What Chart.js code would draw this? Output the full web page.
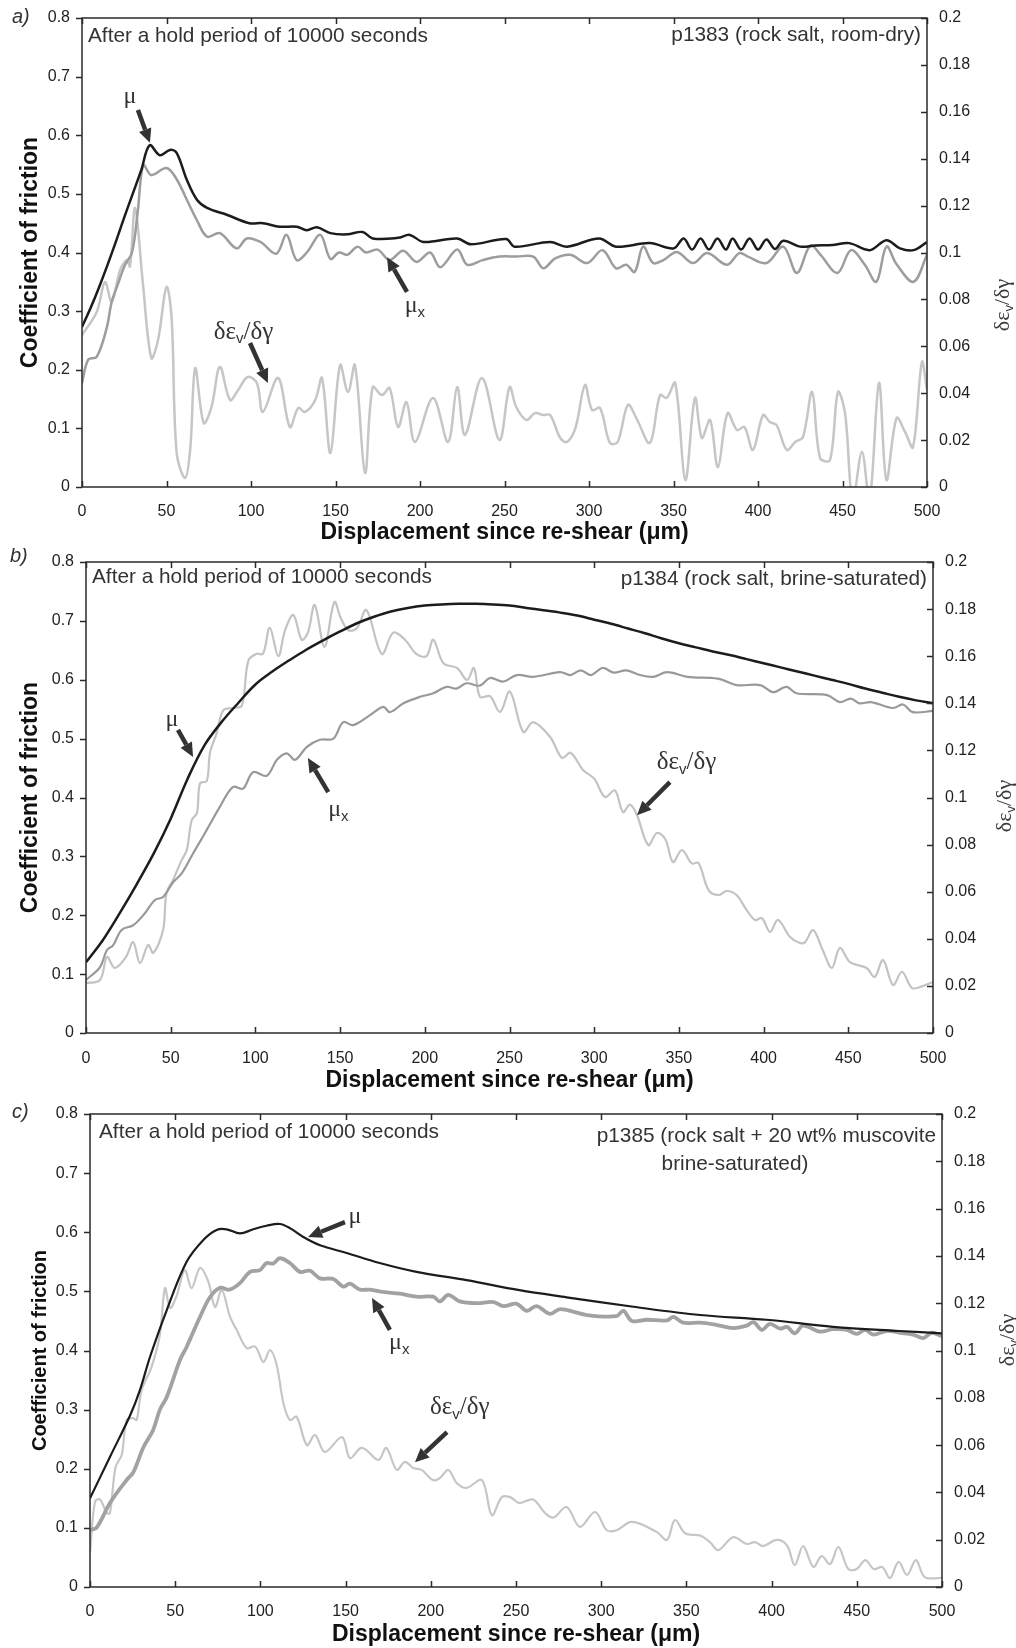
<!DOCTYPE html>
<html>
<head>
<meta charset="utf-8">
<script src="https://cdn.jsdelivr.net/npm/chart.js@4.4.1/dist/chart.umd.min.js"></script>
<style>
  html, body { margin: 0; padding: 0; background: #fff; }
  #wrap { position: relative; width: 1016px; height: 1648px; }
  canvas { position: absolute; left: 0; }
</style>
</head>
<body>
<div id="wrap">
  <canvas id="pa" width="1016" height="548" style="top:0px"></canvas>
  <canvas id="pb" width="1016" height="548" style="top:548px"></canvas>
  <canvas id="pc" width="1016" height="552" style="top:1096px"></canvas>
</div>
<script>
// ---- panel a: p1383 rock salt, room-dry ----
const aMuX = [0,5,10,15,20,25,30,35,40,46,52,56,62,68,74,86,99,107,117,127,133,139,147,157,166,172,187,194,202,222,230,251,256,277,287,306,316,336,350,356,361,366,371,376,381,385,390,395,400,405,410,415,425,434,444,454,466,476,484,492,500];
const aMuY = [0.273,0.305,0.34,0.378,0.418,0.46,0.5,0.54,0.583,0.566,0.575,0.57,0.524,0.49,0.476,0.464,0.45,0.45,0.444,0.444,0.438,0.443,0.433,0.431,0.435,0.424,0.425,0.43,0.418,0.424,0.414,0.423,0.41,0.418,0.41,0.424,0.41,0.416,0.407,0.424,0.405,0.424,0.405,0.424,0.405,0.424,0.405,0.424,0.405,0.422,0.406,0.42,0.41,0.412,0.413,0.416,0.404,0.421,0.407,0.404,0.418];
const aMuxX = [0,3.6,8.7,14.6,17.6,21.5,25.5,29.6,33,36.3,41,50,56,62,68,74,81.6,91.5,97.5,105.5,115,121,127,133,141,147,152,157,163,168,175,182,190,198,206,212,222,228,237,247,257,267,273,280,289,299,308,316,322,327,332,338,344,352,361.5,370,381.5,389,394,405,415,423,431,437,447,455,463,470,476,482,492,500];
const aMuxY = [0.177,0.217,0.222,0.271,0.316,0.348,0.379,0.40,0.47,0.549,0.532,0.544,0.525,0.49,0.455,0.427,0.433,0.407,0.424,0.418,0.398,0.43,0.387,0.4,0.43,0.389,0.40,0.396,0.41,0.40,0.405,0.387,0.403,0.384,0.40,0.375,0.405,0.379,0.387,0.393,0.393,0.393,0.373,0.39,0.396,0.382,0.404,0.373,0.379,0.367,0.41,0.382,0.387,0.401,0.382,0.399,0.379,0.399,0.393,0.382,0.41,0.365,0.412,0.396,0.365,0.404,0.38,0.35,0.41,0.38,0.35,0.396];
const aDilX = [0,8.7,13.6,17.6,22.5,26.6,28.4,31.4,36,41,45,50,53,56,61,64,67,72,76.6,81.6,87.6,92.4,98,103.5,107,116,123,128,132,138,142,147,152.7,157.4,161.5,167.5,172,177.5,182,187,192,197,207.7,216.6,222,226.6,236.7,247,253,257,263,268,273,277,283,287,292,297.6,301.8,306.5,312.4,317,323,328,336,342,346,351,357,362.7,366.8,371.6,376.3,382,387.6,392,397,403,407,411,417,422,426.6,432,436.7,442.6,447.3,451.5,456,461.5,466,471.6,476,482,487,491.7,497,500];
const aDilY = [0.0648,0.0746,0.0874,0.079,0.0925,0.0968,0.094,0.119,0.087,0.055,0.0627,0.0853,0.0725,0.0145,0.0038,0.0158,0.0507,0.0273,0.0341,0.0512,0.0371,0.0414,0.0469,0.0444,0.032,0.0465,0.0256,0.0337,0.032,0.0371,0.0465,0.0145,0.052,0.0405,0.052,0.006,0.0426,0.0392,0.0422,0.0256,0.0362,0.0192,0.038,0.0192,0.0426,0.0222,0.0465,0.02,0.0426,0.034,0.0286,0.0315,0.0307,0.0307,0.0209,0.0192,0.0252,0.0435,0.0328,0.0337,0.0188,0.0192,0.035,0.0294,0.0188,0.0392,0.038,0.0444,0.003,0.038,0.0209,0.0286,0.0085,0.0315,0.0243,0.0256,0.0158,0.0307,0.0277,0.0264,0.0158,0.0192,0.0213,0.0405,0.0124,0.0115,0.0405,0.0315,-0.006,0.015,-0.006,0.0444,0.003,0.0294,0.0235,0.017,0.0533,0.0414];

// ---- panel b: p1384 rock salt, brine-saturated ----
const bMuX = [0,10,20,30,40,50,60,70,80,90,100,110,120,130,140,150,160,170,180,190,200,210,220,230,240,250,260,270,280,290,300,310,320,330,340,350,360,370,380,390,400,410,420,430,440,450,460,470,480,490,500];
const bMuY = [0.12,0.158,0.204,0.253,0.305,0.364,0.432,0.489,0.528,0.561,0.592,0.614,0.633,0.651,0.667,0.682,0.696,0.707,0.716,0.722,0.726,0.728,0.729,0.729,0.728,0.726,0.722,0.718,0.714,0.709,0.702,0.695,0.687,0.679,0.67,0.662,0.655,0.648,0.642,0.635,0.628,0.621,0.614,0.607,0.6,0.593,0.585,0.578,0.571,0.565,0.56];
const bMuxX = [0,8.3,12.4,16,21,27.8,33.8,40.7,45.5,51.4,56.5,63.2,67.3,71.3,79,86.8,92.7,98.6,106.7,112.7,118.5,123.4,130.4,138,146,151.8,157.7,167.7,175.5,179.4,187.4,197.2,205,212.8,218.7,224.6,232.6,238.5,246.3,254.3,264,279.8,286,292,298,305,311.5,319,327,335,343,355,373,384,398,405.6,413.5,419.4,437.5,445,451.5,456.5,463.3,476.4,482.3,488,500];
const bMuxY = [0.09,0.112,0.141,0.149,0.175,0.183,0.2,0.226,0.231,0.256,0.271,0.305,0.325,0.345,0.384,0.418,0.415,0.443,0.437,0.464,0.475,0.464,0.486,0.498,0.5,0.528,0.523,0.54,0.554,0.545,0.56,0.571,0.577,0.588,0.585,0.594,0.59,0.603,0.597,0.608,0.605,0.613,0.608,0.616,0.608,0.62,0.612,0.616,0.608,0.605,0.613,0.605,0.602,0.591,0.591,0.579,0.588,0.577,0.574,0.562,0.568,0.56,0.562,0.552,0.558,0.545,0.547];
const bDilX = [0,8.3,12.4,17,23.6,27.8,31.9,36.7,39.7,45.5,47.5,51.4,56.5,59.5,62.4,65.5,67.3,71.3,73.2,77,81,86.8,92,95.8,100.7,104.5,108.5,113.5,117.5,122.4,127.3,131,135,140.8,146.6,150.5,155,160,165.5,174.6,181.4,188.3,195,201,205,211,219,225,229,232.6,238.5,244.4,250.2,258.1,264,274,281,286,293.4,300,306.4,312.2,317,321,325,331.9,337,342,346.5,351.8,357.6,361.6,367.5,373.4,378.2,384,390,394.9,399,403.8,408.5,415.6,421.5,424.5,429.2,435,440.3,445,451,460.8,465.6,470.5,476.4,481.7,487.6,493.5,500];
const bDilY = [0.0212,0.0225,0.0323,0.0276,0.0323,0.0386,0.0297,0.0374,0.034,0.0437,0.0594,0.065,0.0735,0.0777,0.0904,0.0934,0.106,0.107,0.119,0.127,0.137,0.138,0.139,0.158,0.161,0.161,0.172,0.16,0.171,0.1775,0.167,0.17,0.1817,0.164,0.183,0.176,0.171,0.172,0.1796,0.161,0.17,0.167,0.161,0.16,0.167,0.157,0.155,0.1499,0.155,0.1427,0.143,0.1363,0.145,0.1278,0.132,0.1257,0.1168,0.119,0.1117,0.108,0.1002,0.103,0.0938,0.097,0.093,0.0798,0.0849,0.0823,0.0726,0.0777,0.072,0.0722,0.0607,0.0586,0.0603,0.0586,0.0522,0.048,0.0488,0.0429,0.048,0.0408,0.0382,0.0386,0.0437,0.035,0.0276,0.0361,0.0301,0.0276,0.0238,0.031,0.0204,0.026,0.0191,0.0198,0.0217];

// ---- panel c: p1385 rock salt + 20 wt% muscovite ----
const cMuX = [0,11.7,23.5,29.3,35.2,45,56.7,66.5,74.3,80.2,88,95.8,103.6,111.4,117.3,125.2,135,150.6,170,191.6,221,252,279.7,318.9,358,397,436,475,500];
const cMuY = [0.15,0.22,0.29,0.333,0.389,0.468,0.55,0.587,0.604,0.605,0.598,0.605,0.611,0.614,0.607,0.592,0.578,0.565,0.548,0.533,0.519,0.502,0.49,0.474,0.46,0.452,0.44,0.433,0.429];
const cMuxX = [0,4,11.7,21.5,25.4,31.3,37,41,45,52.8,56.7,64.6,70.4,76.3,82,88,93.9,99.7,103.6,107.5,111.4,117.3,123.2,129,135,142.8,148.6,152.5,158.5,164.3,172,181.9,191.6,201.4,205.4,210.2,217,227,236.8,242.6,250.4,256.3,262,270,276,291.7,309,313,318,326.8,338.6,342.5,348,358,368,377.5,385.4,389.4,394.3,399,405,409,413.6,418.5,428.3,436,444,450,454.8,459.7,467.5,475.4,483,489,494,500];
const cMuxY = [0.096,0.101,0.142,0.181,0.194,0.236,0.265,0.3,0.321,0.384,0.406,0.457,0.49,0.506,0.503,0.514,0.533,0.536,0.548,0.547,0.556,0.548,0.533,0.535,0.522,0.521,0.508,0.513,0.503,0.503,0.499,0.496,0.491,0.491,0.483,0.494,0.483,0.48,0.482,0.475,0.479,0.467,0.475,0.462,0.47,0.46,0.458,0.467,0.45,0.452,0.451,0.457,0.447,0.447,0.443,0.438,0.442,0.448,0.435,0.445,0.437,0.44,0.429,0.442,0.432,0.436,0.435,0.428,0.435,0.427,0.433,0.43,0.427,0.421,0.43,0.424];
const cDilX = [0,2.9,5.9,9.8,11.7,15,18.6,21.5,25.4,27.4,30.3,36.1,41,44,47,50.8,55.6,59.6,64.6,69.5,73.4,77.3,82.2,86.1,92,96.9,101.8,105.6,109.5,113.5,117.3,121.2,127.3,132,137.9,147.9,152.5,158.8,162,169.3,173.9,180,184.8,189.7,194.6,201.4,205.4,210.3,215.2,221,230,235.8,241.7,246.5,252,260,267,272,279.7,287.5,296.4,303.3,309,318,332.6,338.6,343.3,349.4,358,363.8,368.7,377.5,385.4,390.3,395,403,409,413.6,418.5,424.5,429.4,434.3,439.2,445,450,455,460,465,469.5,474.5,479.5,484.7,489.8,498.6,500];
const cDilY = [0.0144,0.036,0.037,0.0313,0.0313,0.0507,0.0558,0.0706,0.0714,0.0706,0.0833,0.093,0.1066,0.1264,0.118,0.123,0.134,0.1264,0.1349,0.129,0.1184,0.1256,0.1142,0.1087,0.101,0.1017,0.0951,0.1002,0.094,0.0778,0.0706,0.072,0.06,0.0643,0.0571,0.0634,0.0545,0.0588,0.058,0.0537,0.0588,0.0495,0.0529,0.0503,0.0495,0.0452,0.0461,0.0495,0.044,0.0419,0.0452,0.0304,0.038,0.038,0.0355,0.037,0.0313,0.0294,0.0338,0.0254,0.0317,0.024,0.024,0.0275,0.0233,0.0199,0.0283,0.0226,0.0218,0.019,0.0156,0.0211,0.0182,0.019,0.0173,0.0199,0.0176,0.0093,0.0173,0.0085,0.0131,0.0097,0.0169,0.0076,0.0076,0.0114,0.0076,0.0084,0.0038,0.0106,0.0051,0.0114,0.0042,0.0038,0.004];

const xTitle = 'Displacement since re-shear (\u03bcm)';
const yTitle = 'Coefficient of friction';
const holdNote = 'After a hold period of 10000 seconds';

Chart.defaults.font.family = '"Liberation Sans", Arial, sans-serif';
Chart.defaults.color = '#222';

const ink = '#333';
const sans = '"Liberation Sans", Arial, sans-serif';
const serif = '"Liberation Serif", "DejaVu Serif", serif';

function pts(xs, ys) { return xs.map((x, i) => ({ x: x, y: ys[i] })); }

function muParts(sz) { return [{ t: '\u03bc', font: sz + 'px ' + serif }]; }
function muxParts(sz) {
  return [{ t: '\u03bc', font: sz + 'px ' + serif },
          { t: 'x', font: Math.round(sz * 0.62) + 'px ' + sans, dy: sz * 0.3 }];
}
function dilParts(sz) {
  return [{ t: '\u03b4\u03b5', font: sz + 'px ' + serif },
          { t: 'v', font: Math.round(sz * 0.6) + 'px ' + sans, dy: sz * 0.28 },
          { t: '/\u03b4\u03b3', font: sz + 'px ' + serif }];
}

// draws a run of text pieces (for subscripts), centred on x
function drawRich(ctx, parts, x, y) {
  let w = 0;
  const ws = parts.map(p => { ctx.font = p.font; const m = ctx.measureText(p.t).width; w += m; return m; });
  let cx = x - w / 2;
  ctx.textAlign = 'left';
  ctx.textBaseline = 'middle';
  parts.forEach((p, i) => { ctx.font = p.font; ctx.fillText(p.t, cx, y + (p.dy || 0)); cx += ws[i]; });
}

function arrow(ctx, x1, y1, x2, y2) {
  const ang = Math.atan2(y2 - y1, x2 - x1);
  const head = 14, half = 6.5;
  const bx = x2 - head * Math.cos(ang), by = y2 - head * Math.sin(ang);
  ctx.strokeStyle = ink;
  ctx.fillStyle = ink;
  ctx.lineWidth = 4.5;
  ctx.beginPath(); ctx.moveTo(x1, y1); ctx.lineTo(bx, by); ctx.stroke();
  ctx.beginPath();
  ctx.moveTo(x2, y2);
  ctx.lineTo(bx + half * Math.sin(ang), by - half * Math.cos(ang));
  ctx.lineTo(bx - half * Math.sin(ang), by + half * Math.cos(ang));
  ctx.closePath(); ctx.fill();
}

const panels = [
  {
    id: 'pa', H: 548, top: 18, bottom: 487, left: 82, right: 927,
    letter: 'a)', letterX: 12, letterY: 23,
    yTitleSize: 23, yTitlePad: 17, xTitlePad: 2, tickPadX: 15,
    rtX: 1003, rtY: 305,
    notes: [{ text: holdNote, x: 88, y: 42, align: 'left' },
            { text: 'p1383 (rock salt, room-dry)', x: 921, y: 41, align: 'right' }],
    mu: [aMuX, aMuY, '#1c1c1c', 2.5], mux: [aMuxX, aMuxY, '#9d9d9d', 2.5], dil: [aDilX, aDilY, '#c6c6c6', 2.5],
    labels: [{ parts: muParts(24), x: 28.4, y: 0.665 },
             { parts: muxParts(24), x: 197, y: 0.31 },
             { parts: dilParts(25), x: 95.6, y: 0.264 }],
    arrows: [[33.1, 0.643, 40.2, 0.587], [192.3, 0.333, 180.5, 0.392], [99.4, 0.2456, 110, 0.1774]]
  },
  {
    id: 'pb', H: 548, top: 14, bottom: 485, left: 86, right: 933,
    letter: 'b)', letterX: 10, letterY: 14,
    yTitleSize: 23, yTitlePad: 17, xTitlePad: 2, tickPadX: 16,
    rtX: 1005, rtY: 258,
    notes: [{ text: holdNote, x: 92, y: 35, align: 'left' },
            { text: 'p1384 (rock salt, brine-saturated)', x: 927, y: 37, align: 'right' }],
    mu: [bMuX, bMuY, '#1c1c1c', 2.5], mux: [bMuxX, bMuxY, '#999999', 2.2], dil: [bDilX, bDilY, '#c3c3c3', 2.2],
    labels: [{ parts: muParts(24), x: 50.8, y: 0.532 },
             { parts: muxParts(24), x: 149, y: 0.379 },
             { parts: dilParts(25), x: 354.5, y: 0.459 }],
    arrows: [[54.3, 0.515, 63.2, 0.469], [143, 0.409, 131, 0.467], [344.7, 0.426, 325.3, 0.37]]
  },
  {
    id: 'pc', H: 552, top: 18, bottom: 491, left: 90, right: 942,
    letter: 'c)', letterX: 12, letterY: 22,
    yTitleSize: 20, yTitlePad: 28, xTitlePad: 0, tickPadX: 15,
    rtX: 1008, rtY: 244,
    notes: [{ text: holdNote, x: 99, y: 42, align: 'left' },
            { text: 'p1385 (rock salt + 20 wt% muscovite', x: 936, y: 46, align: 'right' },
            { text: 'brine-saturated)', x: 735, y: 74, align: 'center' }],
    mu: [cMuX, cMuY, '#1c1c1c', 2.2], mux: [cMuxX, cMuxY, '#a2a2a2', 3.8], dil: [cDilX, cDilY, '#c6c6c6', 2.2],
    labels: [{ parts: muParts(24), x: 155.5, y: 0.626 },
             { parts: muxParts(24), x: 181.5, y: 0.413 },
             { parts: dilParts(25), x: 217, y: 0.303 }],
    arrows: [[149.6, 0.617, 128, 0.592], [176, 0.435, 165.5, 0.489], [209.5, 0.262, 190.7, 0.211]]
  }
];

function makePanel(P) {
  const decor = {
    id: 'decor',
    afterDatasetsDraw(chart) {
      const { ctx, chartArea: a, scales } = chart;
      const sx = scales.x, sy = scales.y, sy2 = scales.y2;
      ctx.save();
      ctx.lineCap = 'butt';
      // frame and tick marks
      ctx.strokeStyle = '#2a2a2a';
      ctx.lineWidth = 1.5;
      ctx.strokeRect(a.left, a.top, a.right - a.left, a.bottom - a.top);
      ctx.beginPath();
      sx.ticks.forEach(t => {
        const px = Math.round(sx.getPixelForValue(t.value)) + 0.5;
        ctx.moveTo(px, a.bottom); ctx.lineTo(px, a.bottom - 6);
        ctx.moveTo(px, a.top); ctx.lineTo(px, a.top + 6);
      });
      sy.ticks.forEach(t => {
        const py = Math.round(sy.getPixelForValue(t.value)) + 0.5;
        ctx.moveTo(a.left - 6, py); ctx.lineTo(a.left, py);
      });
      sy2.ticks.forEach(t => {
        const py = Math.round(sy2.getPixelForValue(t.value)) + 0.5;
        ctx.moveTo(a.right - 6, py); ctx.lineTo(a.right, py);
      });
      ctx.stroke();

      // arrows and curve labels, given in left-axis data units
      P.arrows.forEach(r => arrow(ctx, sx.getPixelForValue(r[0]), sy.getPixelForValue(r[1]),
                                       sx.getPixelForValue(r[2]), sy.getPixelForValue(r[3])));
      ctx.fillStyle = ink;
      P.labels.forEach(l => drawRich(ctx, l.parts, sx.getPixelForValue(l.x), sy.getPixelForValue(l.y)));

      // text notes inside the frame
      ctx.font = '20.8px ' + sans;
      ctx.textBaseline = 'alphabetic';
      P.notes.forEach(n => { ctx.textAlign = n.align; ctx.fillText(n.text, n.x, n.y); });

      // panel letter
      ctx.font = 'italic 20px ' + sans;
      ctx.textAlign = 'left';
      ctx.fillText(P.letter, P.letterX, P.letterY);

      // right axis title, read bottom to top
      ctx.save();
      ctx.translate(P.rtX, P.rtY);
      ctx.rotate(-Math.PI / 2);
      ctx.fillStyle = '#3a3a3a';
      drawRich(ctx, dilParts(22), 0, 0);
      ctx.restore();
      ctx.restore();
    }
  };

  const line = (s, axis) => ({
    data: pts(s[0], s[1]), yAxisID: axis, borderColor: s[2], borderWidth: s[3],
    pointRadius: 0, tension: 0.35, fill: false, clip: 0
  });

  const tickFont = { size: 16 };
  const fmt = v => String(+v.toFixed(3));
  const noGrid = { display: false, drawTicks: false };

  return new Chart(document.getElementById(P.id), {
    type: 'line',
    data: { datasets: [line(P.mu, 'y'), line(P.mux, 'y'), line(P.dil, 'y2')] },
    options: {
      responsive: false,
      animation: false,
      devicePixelRatio: 1,
      layout: { padding: { top: P.top, left: 0, right: 0, bottom: 0 } },
      plugins: { legend: { display: false }, tooltip: { enabled: false } },
      scales: {
        x: {
          type: 'linear', min: 0, max: 500,
          grid: noGrid, border: { display: false },
          ticks: { stepSize: 50, font: tickFont, color: '#222', padding: P.tickPadX, maxRotation: 0, autoSkip: false },
          title: { display: true, text: xTitle, color: '#111', font: { size: 23, weight: 'bold' },
                   padding: { top: 0, bottom: P.xTitlePad } },
          afterFit: s => { s.height = P.H - P.bottom; }
        },
        y: {
          position: 'left', min: 0, max: 0.8,
          grid: noGrid, border: { display: false },
          ticks: { stepSize: 0.1, font: tickFont, color: '#222', padding: 12, callback: fmt, autoSkip: false },
          title: { display: true, text: yTitle, color: '#111', font: { size: P.yTitleSize, weight: 'bold' },
                   padding: { top: P.yTitlePad, bottom: 0 } },
          afterFit: s => { s.width = P.left; s.paddingTop = 0; s.paddingBottom = 0; }
        },
        y2: {
          position: 'right', min: 0, max: 0.2,
          grid: noGrid, border: { display: false },
          ticks: { stepSize: 0.02, font: tickFont, color: '#222', padding: 12, callback: fmt, autoSkip: false },
          afterFit: s => { s.width = 1016 - P.right; s.paddingTop = 0; s.paddingBottom = 0; }
        }
      }
    },
    plugins: [decor]
  });
}

panels.forEach(makePanel);
</script>
</body>
</html>
